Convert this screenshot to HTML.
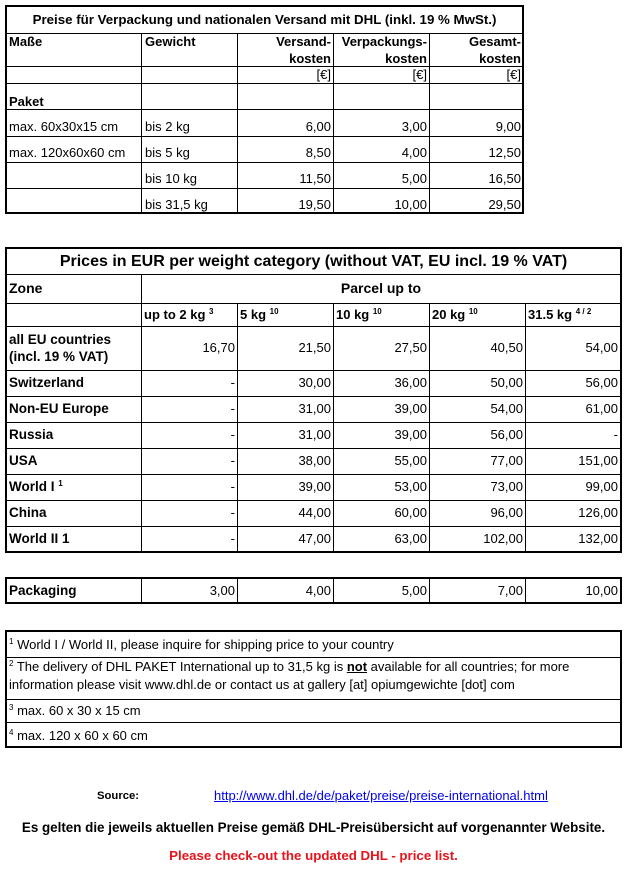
<!DOCTYPE html>
<html>
<head>
<meta charset="utf-8">
<style>
  html, body { margin:0; padding:0; background:#fff; }
  body { width:635px; height:873px; position:relative; overflow:hidden;
         font-family:"Liberation Sans", Arial, sans-serif; color:#000; }
  .box { position:absolute; border:2px solid #000; box-sizing:border-box; }
  .h { position:absolute; height:1px; background:#000; }
  .v { position:absolute; width:1px; background:#000; }
  .t { position:absolute; white-space:nowrap; font-size:13px; line-height:17px; }
  .b { font-weight:bold; }
  .r { text-align:right; }
  .c { text-align:center; }
  sup { font-size:8px; line-height:0; vertical-align:5px; font-weight:bold; }
  .fn sup { font-weight:normal; }
</style>
</head>
<body>

<!-- ========== TABLE 1 ========== -->
<div class="box" style="left:5px;top:5px;width:519px;height:209px;"></div>
<div class="h" style="left:7px;top:33px;width:515px;"></div>
<div class="h" style="left:7px;top:66px;width:515px;"></div>
<div class="h" style="left:7px;top:83px;width:515px;"></div>
<div class="h" style="left:7px;top:109px;width:515px;"></div>
<div class="h" style="left:7px;top:136px;width:515px;"></div>
<div class="h" style="left:7px;top:162px;width:515px;"></div>
<div class="h" style="left:7px;top:188px;width:515px;"></div>
<div class="v" style="left:141px;top:33px;height:179px;"></div>
<div class="v" style="left:237px;top:33px;height:179px;"></div>
<div class="v" style="left:333px;top:33px;height:179px;"></div>
<div class="v" style="left:429px;top:33px;height:179px;"></div>

<div class="t b c" style="left:7px;top:7px;width:515px;line-height:26px;font-size:13.3px;">Preise für Verpackung und nationalen Versand mit DHL (inkl. 19 % MwSt.)</div>
<div class="t b" style="left:9px;top:33px;">Maße</div>
<div class="t b" style="left:145px;top:33px;">Gewicht</div>
<div class="t b r" style="left:238px;top:33px;width:93px;">Versand-<br>kosten</div>
<div class="t b r" style="left:334px;top:33px;width:93px;">Verpackungs-<br>kosten</div>
<div class="t b r" style="left:430px;top:33px;width:91px;">Gesamt-<br>kosten</div>
<div class="t r" style="left:238px;top:66px;width:93px;">[€]</div>
<div class="t r" style="left:334px;top:66px;width:93px;">[€]</div>
<div class="t r" style="left:430px;top:66px;width:91px;">[€]</div>
<div class="t b" style="left:9px;top:93px;">Paket</div>

<div class="t" style="left:9px;top:118px;">max. 60x30x15 cm</div>
<div class="t" style="left:145px;top:118px;">bis 2 kg</div>
<div class="t r" style="left:238px;top:118px;width:93px;">6,00</div>
<div class="t r" style="left:334px;top:118px;width:93px;">3,00</div>
<div class="t r" style="left:430px;top:118px;width:91px;">9,00</div>

<div class="t" style="left:9px;top:144px;">max. 120x60x60 cm</div>
<div class="t" style="left:145px;top:144px;">bis 5 kg</div>
<div class="t r" style="left:238px;top:144px;width:93px;">8,50</div>
<div class="t r" style="left:334px;top:144px;width:93px;">4,00</div>
<div class="t r" style="left:430px;top:144px;width:91px;">12,50</div>

<div class="t" style="left:145px;top:170px;">bis 10 kg</div>
<div class="t r" style="left:238px;top:170px;width:93px;">11,50</div>
<div class="t r" style="left:334px;top:170px;width:93px;">5,00</div>
<div class="t r" style="left:430px;top:170px;width:91px;">16,50</div>

<div class="t" style="left:145px;top:196px;">bis 31,5 kg</div>
<div class="t r" style="left:238px;top:196px;width:93px;">19,50</div>
<div class="t r" style="left:334px;top:196px;width:93px;">10,00</div>
<div class="t r" style="left:430px;top:196px;width:91px;">29,50</div>

<!-- ========== TABLE 2 ========== -->
<div class="box" style="left:5px;top:247px;width:617px;height:306px;"></div>
<div class="h" style="left:7px;top:274px;width:613px;"></div>
<div class="h" style="left:7px;top:303px;width:613px;"></div>
<div class="h" style="left:7px;top:326px;width:613px;"></div>
<div class="h" style="left:7px;top:370px;width:613px;"></div>
<div class="h" style="left:7px;top:396px;width:613px;"></div>
<div class="h" style="left:7px;top:422px;width:613px;"></div>
<div class="h" style="left:7px;top:448px;width:613px;"></div>
<div class="h" style="left:7px;top:474px;width:613px;"></div>
<div class="h" style="left:7px;top:500px;width:613px;"></div>
<div class="h" style="left:7px;top:526px;width:613px;"></div>
<div class="v" style="left:141px;top:274px;height:277px;"></div>
<div class="v" style="left:237px;top:303px;height:248px;"></div>
<div class="v" style="left:333px;top:303px;height:248px;"></div>
<div class="v" style="left:429px;top:303px;height:248px;"></div>
<div class="v" style="left:525px;top:303px;height:248px;"></div>

<div class="t b c" style="left:7px;top:249px;width:613px;font-size:16px;line-height:25px;">Prices in EUR per weight category (without VAT, EU incl. 19 % VAT)</div>
<div class="t b" style="left:9px;top:274px;font-size:14px;line-height:29px;">Zone</div>
<div class="t b c" style="left:142px;top:274px;width:478px;font-size:14px;line-height:29px;">Parcel up to</div>

<div class="t b" style="left:144px;top:306px;">up to 2 kg <sup>3</sup></div>
<div class="t b" style="left:240px;top:306px;">5 kg <sup>10</sup></div>
<div class="t b" style="left:336px;top:306px;">10 kg <sup>10</sup></div>
<div class="t b" style="left:432px;top:306px;">20 kg <sup>10</sup></div>
<div class="t b" style="left:528px;top:306px;">31.5 kg <sup>4 / 2</sup></div>

<!-- all EU -->
<div class="t b" style="left:9px;top:331px;font-size:13.5px;">all EU countries<br>(incl. 19 % VAT)</div>
<div class="t r" style="left:142px;top:326px;width:93px;line-height:44px;">16,70</div>
<div class="t r" style="left:238px;top:326px;width:93px;line-height:44px;">21,50</div>
<div class="t r" style="left:334px;top:326px;width:93px;line-height:44px;">27,50</div>
<div class="t r" style="left:430px;top:326px;width:93px;line-height:44px;">40,50</div>
<div class="t r" style="left:526px;top:326px;width:92px;line-height:44px;">54,00</div>

<!-- Switzerland -->
<div class="t b" style="left:9px;top:370px;font-size:13.5px;line-height:26px;">Switzerland</div>
<div class="t r" style="left:142px;top:370px;width:93px;line-height:26px;">-</div>
<div class="t r" style="left:238px;top:370px;width:93px;line-height:26px;">30,00</div>
<div class="t r" style="left:334px;top:370px;width:93px;line-height:26px;">36,00</div>
<div class="t r" style="left:430px;top:370px;width:93px;line-height:26px;">50,00</div>
<div class="t r" style="left:526px;top:370px;width:92px;line-height:26px;">56,00</div>

<!-- Non-EU Europe -->
<div class="t b" style="left:9px;top:396px;font-size:13.5px;line-height:26px;">Non-EU Europe</div>
<div class="t r" style="left:142px;top:396px;width:93px;line-height:26px;">-</div>
<div class="t r" style="left:238px;top:396px;width:93px;line-height:26px;">31,00</div>
<div class="t r" style="left:334px;top:396px;width:93px;line-height:26px;">39,00</div>
<div class="t r" style="left:430px;top:396px;width:93px;line-height:26px;">54,00</div>
<div class="t r" style="left:526px;top:396px;width:92px;line-height:26px;">61,00</div>

<!-- Russia -->
<div class="t b" style="left:9px;top:422px;font-size:13.5px;line-height:26px;">Russia</div>
<div class="t r" style="left:142px;top:422px;width:93px;line-height:26px;">-</div>
<div class="t r" style="left:238px;top:422px;width:93px;line-height:26px;">31,00</div>
<div class="t r" style="left:334px;top:422px;width:93px;line-height:26px;">39,00</div>
<div class="t r" style="left:430px;top:422px;width:93px;line-height:26px;">56,00</div>
<div class="t r" style="left:526px;top:422px;width:92px;line-height:26px;">-</div>

<!-- USA -->
<div class="t b" style="left:9px;top:448px;font-size:13.5px;line-height:26px;">USA</div>
<div class="t r" style="left:142px;top:448px;width:93px;line-height:26px;">-</div>
<div class="t r" style="left:238px;top:448px;width:93px;line-height:26px;">38,00</div>
<div class="t r" style="left:334px;top:448px;width:93px;line-height:26px;">55,00</div>
<div class="t r" style="left:430px;top:448px;width:93px;line-height:26px;">77,00</div>
<div class="t r" style="left:526px;top:448px;width:92px;line-height:26px;">151,00</div>

<!-- World I -->
<div class="t b" style="left:9px;top:474px;font-size:13.5px;line-height:26px;">World I <sup>1</sup></div>
<div class="t r" style="left:142px;top:474px;width:93px;line-height:26px;">-</div>
<div class="t r" style="left:238px;top:474px;width:93px;line-height:26px;">39,00</div>
<div class="t r" style="left:334px;top:474px;width:93px;line-height:26px;">53,00</div>
<div class="t r" style="left:430px;top:474px;width:93px;line-height:26px;">73,00</div>
<div class="t r" style="left:526px;top:474px;width:92px;line-height:26px;">99,00</div>

<!-- China -->
<div class="t b" style="left:9px;top:500px;font-size:13.5px;line-height:26px;">China</div>
<div class="t r" style="left:142px;top:500px;width:93px;line-height:26px;">-</div>
<div class="t r" style="left:238px;top:500px;width:93px;line-height:26px;">44,00</div>
<div class="t r" style="left:334px;top:500px;width:93px;line-height:26px;">60,00</div>
<div class="t r" style="left:430px;top:500px;width:93px;line-height:26px;">96,00</div>
<div class="t r" style="left:526px;top:500px;width:92px;line-height:26px;">126,00</div>

<!-- World II -->
<div class="t b" style="left:9px;top:526px;font-size:13.5px;line-height:26px;">World II 1</div>
<div class="t r" style="left:142px;top:526px;width:93px;line-height:26px;">-</div>
<div class="t r" style="left:238px;top:526px;width:93px;line-height:26px;">47,00</div>
<div class="t r" style="left:334px;top:526px;width:93px;line-height:26px;">63,00</div>
<div class="t r" style="left:430px;top:526px;width:93px;line-height:26px;">102,00</div>
<div class="t r" style="left:526px;top:526px;width:92px;line-height:26px;">132,00</div>

<!-- ========== PACKAGING ========== -->
<div class="box" style="left:5px;top:577px;width:617px;height:27px;"></div>
<div class="v" style="left:141px;top:579px;height:23px;"></div>
<div class="v" style="left:237px;top:579px;height:23px;"></div>
<div class="v" style="left:333px;top:579px;height:23px;"></div>
<div class="v" style="left:429px;top:579px;height:23px;"></div>
<div class="v" style="left:525px;top:579px;height:23px;"></div>
<div class="t b" style="left:9px;top:579px;font-size:13.5px;line-height:23px;">Packaging</div>
<div class="t r" style="left:142px;top:579px;width:93px;line-height:23px;">3,00</div>
<div class="t r" style="left:238px;top:579px;width:93px;line-height:23px;">4,00</div>
<div class="t r" style="left:334px;top:579px;width:93px;line-height:23px;">5,00</div>
<div class="t r" style="left:430px;top:579px;width:93px;line-height:23px;">7,00</div>
<div class="t r" style="left:526px;top:579px;width:92px;line-height:23px;">10,00</div>

<!-- ========== FOOTNOTES ========== -->
<div class="box" style="left:5px;top:630px;width:617px;height:118px;"></div>
<div class="h" style="left:7px;top:657px;width:613px;"></div>
<div class="h" style="left:7px;top:699px;width:613px;"></div>
<div class="h" style="left:7px;top:722px;width:613px;"></div>
<div class="t fn" style="left:9px;top:632px;line-height:25px;"><sup>1</sup> World I / World II, please inquire for shipping price to your country</div>
<div class="t fn" style="left:9px;top:658px;line-height:18px;"><sup>2</sup> The delivery of DHL PAKET International up to 31,5 kg is <b><u>not</u></b> available for all countries; for more<br>information please visit www.dhl.de or contact us at gallery [at] opiumgewichte [dot] com</div>
<div class="t fn" style="left:9px;top:699px;line-height:23px;"><sup>3</sup> max. 60 x 30 x 15 cm</div>
<div class="t fn" style="left:9px;top:723px;line-height:25px;"><sup>4</sup> max. 120 x 60 x 60 cm</div>

<!-- ========== FOOTER ========== -->
<div class="t b" style="left:97px;top:788px;font-size:11.3px;line-height:16px;">Source:</div>
<div class="t" style="left:214px;top:788px;line-height:16px;color:#0000ee;text-decoration:underline;">http://www.dhl.de/de/paket/preise/preise-international.html</div>
<div class="t b c" style="left:7px;top:819px;width:613px;font-size:13.4px;line-height:18px;">Es gelten die jeweils aktuellen Preise gemäß DHL-Preisübersicht auf vorgenannter Website.</div>
<div class="t b c" style="left:7px;top:847px;width:613px;font-size:13.3px;line-height:18px;color:#e8131b;">Please check-out the updated DHL - price list.</div>

</body>
</html>
